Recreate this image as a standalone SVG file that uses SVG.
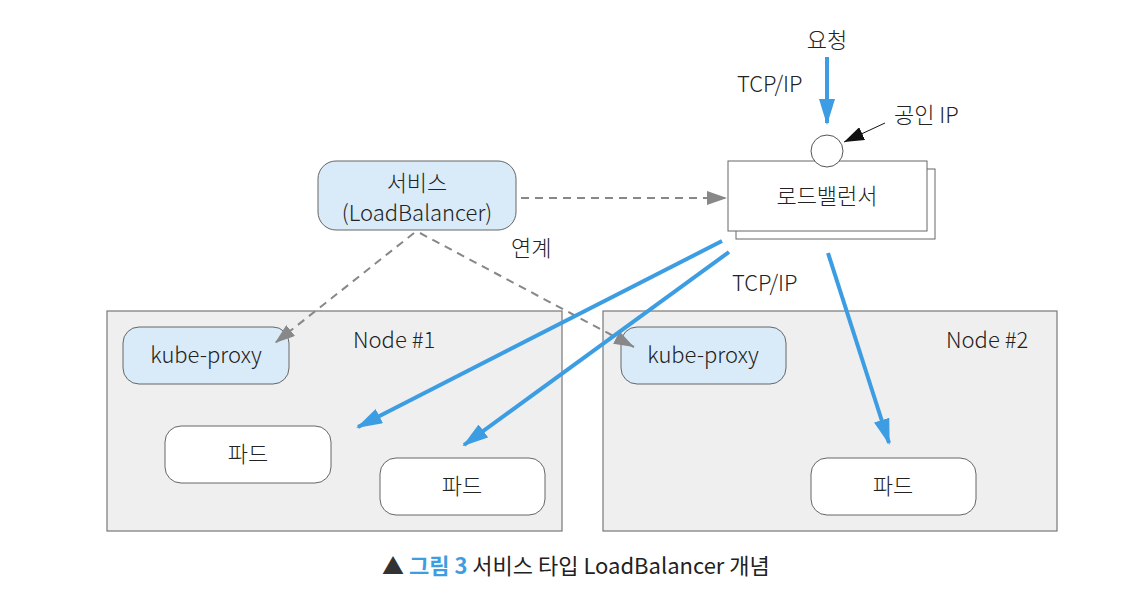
<svg xmlns="http://www.w3.org/2000/svg" width="1138" height="614" viewBox="0 0 1138 614">
<style>
text{font-family:"Noto Sans CJK KR","Liberation Sans",sans-serif;font-weight:300;fill:#222;font-size:22px}
.c{text-anchor:middle}
.nodebox{fill:#efefef;stroke:#777;stroke-width:1.2}
.proxy{fill:#d9ebf8;stroke:#666;stroke-width:1}
.pod{fill:#fff;stroke:#666;stroke-width:1}
.dash{stroke:#888;stroke-width:2;stroke-dasharray:8 6;fill:none}
.blue{stroke:#3d9de2;stroke-width:4;fill:none}
</style>
<defs>
<marker id="ag2" viewBox="0 0 20 14" refX="20" refY="7" markerWidth="20" markerHeight="14" markerUnits="userSpaceOnUse" orient="auto"><path d="M0,0 L20,7 L0,14 z" fill="#888"/></marker>
<marker id="ab" viewBox="0 0 26 16" refX="24" refY="8" markerWidth="26" markerHeight="16" markerUnits="userSpaceOnUse" orient="auto"><path d="M0,0 L26,8 L0,16 z" fill="#3d9de2"/></marker>
<marker id="ak" viewBox="0 0 20 14" refX="20" refY="7" markerWidth="20" markerHeight="14" markerUnits="userSpaceOnUse" orient="auto"><path d="M0,0 L20,7 L0,14 z" fill="#111"/></marker>
</defs>

<g id="node1">
<rect class="nodebox" x="107" y="311" width="455" height="220"/>
<text x="353" y="348">Node #1</text>
</g>
<g id="node2">
<rect class="nodebox" x="603" y="311" width="454" height="220"/>
<text x="946" y="348">Node #2</text>
</g>
<g id="kubeproxy1">
<rect class="proxy" x="123" y="327" width="166" height="57" rx="16"/>
<text class="c" x="206" y="363">kube-proxy</text>
</g>
<g id="kubeproxy2">
<rect class="proxy" x="621" y="327" width="165" height="57" rx="16"/>
<text class="c" x="703" y="363">kube-proxy</text>
</g>
<g id="pod1">
<rect class="pod" x="165" y="426" width="166" height="57" rx="16"/>
<text class="c" x="248" y="462">파드</text>
</g>
<g id="pod2">
<rect class="pod" x="380" y="458" width="165" height="57" rx="16"/>
<text class="c" x="462" y="494">파드</text>
</g>
<g id="pod3">
<rect class="pod" x="811" y="458" width="165" height="57" rx="16"/>
<text class="c" x="893" y="494">파드</text>
</g>
<g id="service">
<rect class="proxy" x="318" y="161" width="198" height="69" rx="18"/>
<text class="c" x="417" y="191">서비스</text>
<text class="c" x="417" y="221">(LoadBalancer)</text>
</g>
<g id="loadbalancer">
<rect x="736" y="169" width="199" height="70" fill="#fff" stroke="#666" stroke-width="1"/>
<rect x="728" y="161" width="199" height="70" fill="#fff" stroke="#666" stroke-width="1"/>
<text class="c" x="827" y="204">로드밸런서</text>
</g>
<g id="publicip">
<circle cx="827" cy="151" r="16" fill="#fff" stroke="#555" stroke-width="1"/>
</g>

<g id="connectors">
<line class="blue" x1="827" y1="57" x2="827" y2="123" marker-end="url(#ab)"/>
<line x1="885" y1="123" x2="844" y2="142" stroke="#111" stroke-width="1" marker-end="url(#ak)"/>
<line class="dash" x1="521" y1="198" x2="727" y2="198" marker-end="url(#ag2)"/>
<line class="dash" x1="414" y1="233" x2="275" y2="343" marker-end="url(#ag2)"/>
<line class="dash" x1="420" y1="233" x2="634" y2="347" marker-end="url(#ag2)"/>
<line class="blue" x1="722" y1="241" x2="358" y2="427" marker-end="url(#ab)"/>
<line class="blue" x1="729" y1="252" x2="464" y2="445" marker-end="url(#ab)"/>
<line class="blue" x1="828" y1="253" x2="889" y2="443" marker-end="url(#ab)"/>
</g>

<g id="labels">
<text class="c" x="827" y="48">요청</text>
<text x="737" y="92">TCP/IP</text>
<text x="894" y="123">공인 IP</text>
<text x="511" y="256">연계</text>
<text x="732" y="291">TCP/IP</text>
</g>

<g id="caption">
<text x="382" y="574" style="font-size:22px;font-weight:400"><tspan fill="#333">▲ </tspan><tspan fill="#3d9de2" style="font-weight:700">그림 3</tspan><tspan> 서비스 타입 LoadBalancer 개념</tspan></text>
</g>
</svg>
